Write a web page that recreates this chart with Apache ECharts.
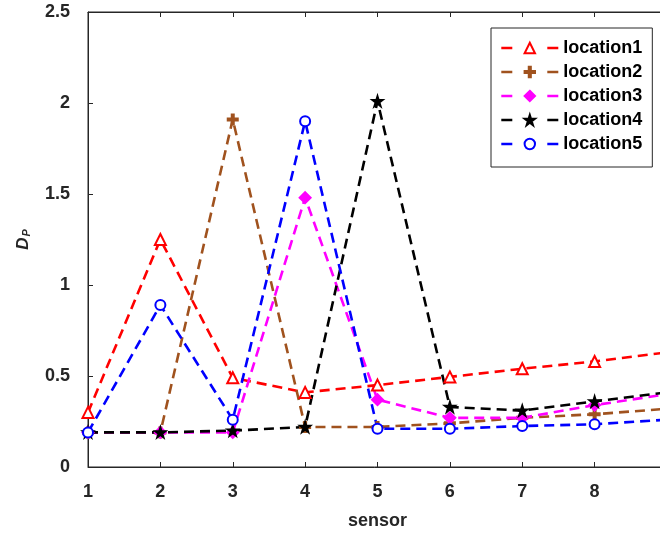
<!DOCTYPE html>
<html>
<head>
<meta charset="utf-8">
<script src="https://cdn.jsdelivr.net/npm/echarts@6/dist/echarts.min.js"></script>
<style>html,body{margin:0;padding:0;background:#fff}#c{width:660px;height:533px}</style>
</head>
<body>
<div id="c"></div>
<script>
var sensors = [1, 2, 3, 4, 5, 6, 7, 8, 9];
var location1 = [0.30, 1.25, 0.49, 0.41, 0.45, 0.495, 0.54, 0.58, 0.63];
var location2 = [0.19, 0.19, 1.91, 0.22, 0.22, 0.24, 0.27, 0.29, 0.32];
var location3 = [0.19, 0.19, 0.19, 1.48, 0.37, 0.27, 0.27, 0.34, 0.40];
var location4 = [0.19, 0.19, 0.20, 0.22, 2.01, 0.33, 0.31, 0.36, 0.41];
var location5 = [0.19, 0.89, 0.26, 1.90, 0.21, 0.21, 0.225, 0.235, 0.26];
var seriesNames = ['location1', 'location2', 'location3', 'location4', 'location5'];
var yTicks = [0, 0.5, 1, 1.5, 2, 2.5];

var colors = ['#ff0000', '#a0521e', '#ff00ff', '#000000', '#0000ff'];
var plusPath = 'path://M4,0 L6,0 L6,4 L10,4 L10,6 L6,6 L6,10 L4,10 L4,6 L0,6 L0,4 L4,4 Z';
var starPath = 'path://M50,0 L61.8,36.2 L100,36.2 L69.1,58.8 L80.9,95.1 L50,72.6 L19.1,95.1 L30.9,58.8 L0,36.2 L38.2,36.2 Z';
var symbols = ['emptyTriangle', plusPath, 'diamond', starPath, 'emptyCircle'];
var sizes = [11, 10, 11, 10, 10];
var dataSets = [location1, location2, location3, location4, location5];

function pairs(arr) { return sensors.map(function (s, i) { return [s, arr[i]]; }); }

var series = seriesNames.map(function (n, k) {
  return {
    name: n,
    type: 'line',
    data: pairs(dataSets[k]),
    symbol: symbols[k],
    symbolSize: sizes[k],
    showAllSymbol: true,
    lineStyle: { color: colors[k], width: 2.6, type: [10, 6] },
    itemStyle: { color: colors[k], borderColor: colors[k], borderWidth: 2 },
    emphasis: { disabled: true },
    animation: false
  };
});

var axisColor = '#262626';
var fontFam = '"Liberation Sans", Arial, Helvetica, sans-serif';

var chart = echarts.init(document.getElementById('c'), null, { renderer: 'canvas' });
chart.setOption({
  backgroundColor: '#ffffff',
  animation: false,
  grid: { left: 88, width: 579, top: 12, height: 455, containLabel: false, outerBoundsMode: 'none', show: true, borderColor: axisColor, borderWidth: 1, backgroundColor: 'transparent' },
  legend: {
    data: seriesNames,
    orient: 'vertical',
    left: 491,
    top: 28,
    padding: [11, 10, 14, 9],
    itemGap: 6,
    itemWidth: 57,
    itemHeight: 13,
    borderColor: axisColor,
    borderWidth: 1,
    backgroundColor: '#ffffff',
    lineStyle: { type: [11, 35, 11], width: 2.6 },
    textStyle: { fontFamily: fontFam, fontWeight: 'bold', fontSize: 18, color: '#000' },
    selectedMode: false
  },
  xAxis: [{
    type: 'value',
    min: 1, max: 9, interval: 1,
    name: 'sensor',
    nameLocation: 'middle',
    nameGap: 45,
    nameTextStyle: { fontFamily: fontFam, fontWeight: 'bold', fontSize: 18, color: axisColor },
    axisLine: { show: true, onZero: false, lineStyle: { color: axisColor, width: 1 } },
    axisTick: { show: true, inside: true, length: 5, lineStyle: { color: axisColor } },
    axisLabel: { fontFamily: fontFam, fontWeight: 'bold', fontSize: 18, color: axisColor, margin: 16 },
    splitLine: { show: false }
  }, {
    type: 'value', position: 'top',
    min: 1, max: 9, interval: 1,
    axisLine: { show: true, onZero: false, lineStyle: { color: axisColor, width: 1 } },
    axisTick: { show: true, inside: true, length: 5, lineStyle: { color: axisColor } },
    axisLabel: { show: false },
    splitLine: { show: false }
  }],
  yAxis: {
    type: 'value',
    min: 0, max: 2.5, interval: 0.5,
    name: '{d|D}{p|P}',
    nameLocation: 'middle',
    nameRotate: 90,
    nameGap: 56,
    nameTextStyle: {
      rich: {
        d: { fontFamily: fontFam, fontWeight: 'bold', fontStyle: 'italic', fontSize: 17, color: axisColor, verticalAlign: 'bottom' },
        p: { fontFamily: fontFam, fontWeight: 'bold', fontStyle: 'italic', fontSize: 11, color: axisColor, verticalAlign: 'bottom', padding: [6, 0, 0, 1] }
      }
    },
    axisLine: { show: true, lineStyle: { color: axisColor, width: 1 } },
    axisTick: { show: true, inside: true, length: 5, lineStyle: { color: axisColor } },
    axisLabel: { fontFamily: fontFam, fontWeight: 'bold', fontSize: 18, color: axisColor, margin: 18 },
    splitLine: { show: false }
  },
  series: series
});
</script>
</body>
</html>
